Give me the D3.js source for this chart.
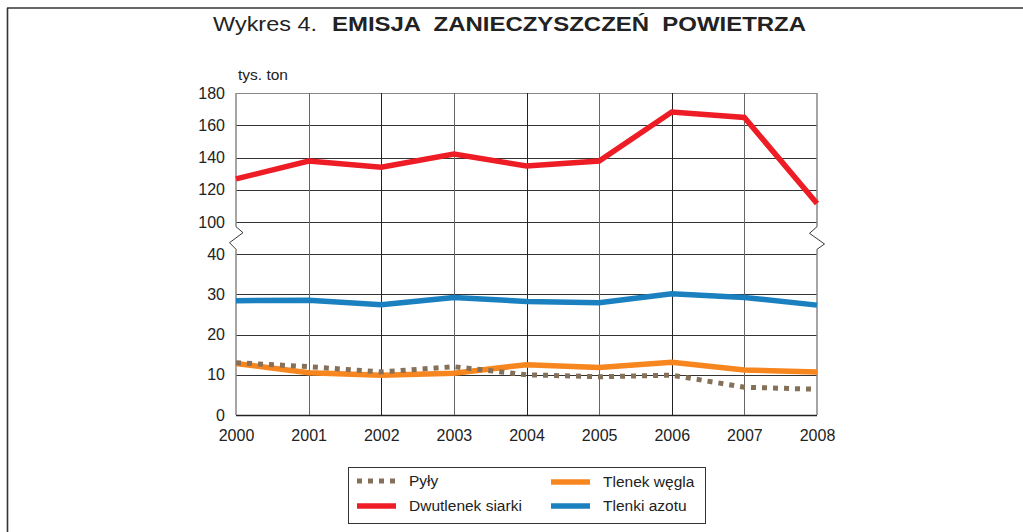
<!DOCTYPE html>
<html><head><meta charset="utf-8">
<script src="https://cdn.jsdelivr.net/npm/d3@7"></script>
<style>body{margin:0;background:#fff}svg{display:block}text{font-family:"Liberation Sans",Arial,sans-serif;fill:#222}</style>
</head><body><svg id="c" width="1023" height="532"></svg>
<script>
const years = [2000,2001,2002,2003,2004,2005,2006,2007,2008];
const pyly = [13.0,12.0,10.7,12.0,10.0,9.5,9.9,6.9,6.4];
const dwutlenekSiarki = [126.7,137.8,134.0,142.2,134.7,137.8,168.2,164.8,111.5];
const tlenekWegla = [12.8,10.5,9.9,10.4,12.5,11.8,13.1,11.2,10.7];
const tlenkiAzotu = [28.4,28.5,27.4,29.2,28.2,27.9,30.1,29.2,27.3];
const lowerTicks = [0,10,20,30,40];
const upperTicks = [100,120,140,160,180];
const seriesNames = ["Pyły","Dwutlenek siarki","Tlenek węgla","Tlenki azotu"];

const svg = d3.select("#c");
const FS = 16;
// frame
svg.append("line").attr("x1",7).attr("x2",1023).attr("y1",8).attr("y2",8).attr("stroke","#333").attr("stroke-width",1.6);
svg.append("line").attr("x1",7.5).attr("x2",7.5).attr("y1",8).attr("y2",532).attr("stroke","#333").attr("stroke-width",1.6);

// title
const t = svg.append("text").attr("x",213).attr("y",31).attr("font-size",21);
t.append("tspan").text("Wykres 4.").attr("textLength",104).attr("lengthAdjust","spacingAndGlyphs");
t.append("tspan").attr("x",332).attr("font-weight","bold").text("EMISJA  ZANIECZYSZCZEŃ  POWIETRZA")
  .attr("textLength",474).attr("lengthAdjust","spacingAndGlyphs").style("white-space","pre");

const x = d3.scalePoint().domain(years).range([236,817]);
const yLow = d3.scaleLinear().domain([0,40]).range([415,254]);
const yUp = d3.scaleLinear().domain([100,180]).range([222,93]);

const grid = svg.append("g");
lowerTicks.forEach(v=>{
  grid.append("line").attr("x1",236).attr("x2",817).attr("y1",Math.round(yLow(v))+0.5).attr("y2",Math.round(yLow(v))+0.5)
    .attr("stroke",v===0?"#222":"#333").attr("stroke-width",v===0?1.4:1);
});
upperTicks.forEach(v=>{
  grid.append("line").attr("x1",236).attr("x2",817).attr("y1",Math.round(yUp(v))+0.5).attr("y2",Math.round(yUp(v))+0.5)
    .attr("stroke",v===180?"#888":"#333").attr("stroke-width",1);
});
years.slice(1,-1).forEach((yr,i)=>{
  grid.append("line").attr("x1",Math.round(x(yr))+0.5).attr("x2",Math.round(x(yr))+0.5).attr("y1",93).attr("y2",415)
    .attr("stroke",i%2===0?"#666":"#222").attr("stroke-width",1);
});
const xl = x(2000), xr = x(2008);
const bTop = 226.7, bBot = 249.3;
grid.append("path").attr("fill","none").attr("stroke","#888").attr("stroke-width",1.5)
  .attr("d",`M${xl},93V${bTop}M${xl},${bBot}V415`);
grid.append("path").attr("fill","none").attr("stroke","#888").attr("stroke-width",1.5)
  .attr("d",`M${xr},93V${bTop}M${xr},${bBot}V415`);
grid.append("path").attr("fill","none").attr("stroke","#222").attr("stroke-width",0.9)
  .attr("d",`M${xl},${bTop}L${xl+7},${bTop+6}L${xl-6.5},${bTop+16}L${xl},${bBot}`);
grid.append("path").attr("fill","none").attr("stroke","#222").attr("stroke-width",0.9)
  .attr("d",`M${xr},${bTop}L${xr-7.5},${bTop+6.6}L${xr+7.5},${bTop+17.3}L${xr},${bBot}`);

const yAxisLow = d3.axisLeft(yLow).tickValues(lowerTicks).tickSize(0).tickPadding(11);
const yAxisUp = d3.axisLeft(yUp).tickValues(upperTicks).tickSize(0).tickPadding(11);
[yAxisLow,yAxisUp].forEach(ax=>{
  const g = svg.append("g").attr("transform",`translate(236,0)`).call(ax);
  g.select(".domain").remove();
  g.selectAll("text").attr("font-size",FS).style("font-family",'"Liberation Sans",Arial,sans-serif').attr("fill","#222");
});
const xAxis = d3.axisBottom(x).tickSize(0).tickPadding(14).tickFormat(d3.format("d"));
const gx = svg.append("g").attr("transform","translate(0,416)").call(xAxis);
gx.select(".domain").remove();
gx.selectAll("text").attr("font-size",FS).style("font-family",'"Liberation Sans",Arial,sans-serif').attr("fill","#222");

svg.append("text").attr("x",238).attr("y",80).attr("font-size",15.5).text("tys. ton");

const lineLow = d3.line().x((d,i)=>x(years[i])).y(d=>yLow(d));
const lineUp = d3.line().x((d,i)=>x(years[i])).y(d=>yUp(d));
const colors = ["#85705a","#ee1c25","#f7861f","#1a80bf"];
svg.append("path").datum(tlenkiAzotu).attr("d",lineLow).attr("fill","none").attr("stroke",colors[3]).attr("stroke-width",5.5);
svg.append("path").datum(tlenekWegla).attr("d",lineLow).attr("fill","none").attr("stroke",colors[2]).attr("stroke-width",5.5);
svg.append("path").datum(pyly).attr("d",lineLow).attr("fill","none").attr("stroke",colors[0]).attr("stroke-width",5).attr("stroke-dasharray","5,6");
svg.append("path").datum(dwutlenekSiarki).attr("d",lineUp).attr("fill","none").attr("stroke",colors[1]).attr("stroke-width",5.5);

const lg = svg.append("g");
lg.append("rect").attr("x",348.5).attr("y",467.5).attr("width",357).attr("height",56).attr("fill","#fff").attr("stroke","#333").attr("stroke-width",1);
const pos = [[357,481],[357,506],[551,482],[551,506]];
seriesNames.forEach((n,i)=>{
  const [px,py]=pos[i];
  const l = lg.append("line").attr("x1",px).attr("x2",px+39).attr("y1",py).attr("y2",py).attr("stroke",colors[i]).attr("stroke-width",5.5);
  if(i===0) l.attr("stroke-dasharray","5,6").attr("stroke-width",5);
  lg.append("text").attr("x",px+52).attr("y",py+5).attr("font-size",15.5).text(n);
});
</script></body></html>
